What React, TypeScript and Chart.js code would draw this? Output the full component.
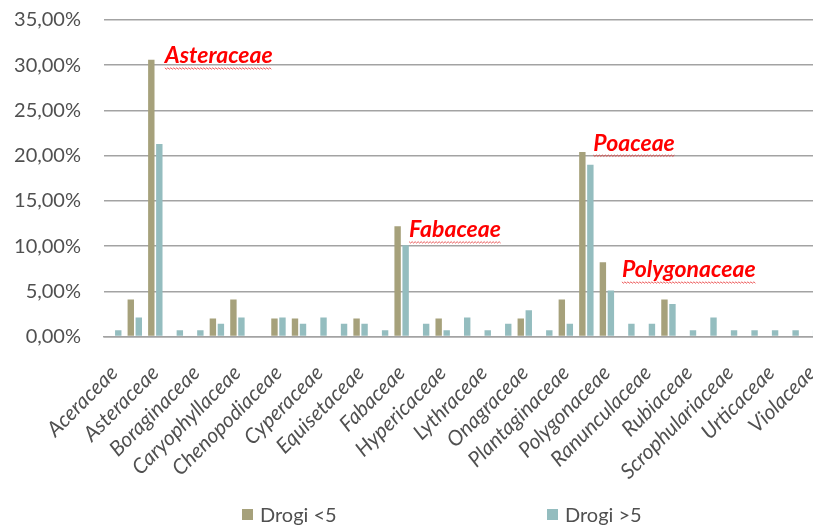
import React, { useEffect, useRef } from 'react';
import { Chart, registerables } from 'chart.js';

Chart.register(...registerables);

// Plant families, alphabetical; only every second name is printed on the axis
const families = [
  'Aceraceae', 'Apiaceae', 'Asteraceae', 'Betulaceae', 'Boraginaceae',
  'Brassicaceae', 'Caryophyllaceae', 'Celastraceae', 'Chenopodiaceae', 'Convolvulaceae',
  'Cyperaceae', 'Dipsacaceae', 'Equisetaceae', 'Euphorbiaceae', 'Fabaceae',
  'Gentianaceae', 'Hypericaceae', 'Lamiaceae', 'Lythraceae', 'Malvaceae',
  'Onagraceae', 'Papaveraceae', 'Plantaginaceae', 'Poaceae', 'Polygonaceae',
  'Primulaceae', 'Ranunculaceae', 'Rosaceae', 'Rubiaceae', 'Salicaceae',
  'Scrophulariaceae', 'Solanaceae', 'Urticaceae', 'Valerianaceae', 'Violaceae',
];

// Share of species (%) per family
const drogiUnder5 = [
  0, 4.1, 30.6, 0, 0,
  2.0, 4.1, 0, 2.0, 2.0,
  0, 0, 2.0, 0, 12.2,
  0, 2.0, 0, 0, 0,
  2.0, 0, 4.1, 20.4, 8.2,
  0, 0, 4.1, 0, 0,
  0, 0, 0, 0, 0,
];
const drogiOver5 = [
  0.7, 2.1, 21.3, 0.7, 0.7,
  1.4, 2.1, 0, 2.1, 1.4,
  2.1, 1.4, 1.4, 0.7, 10.1,
  1.4, 0.7, 2.1, 0.7, 1.4,
  2.9, 0.7, 1.4, 19.0, 5.1,
  1.4, 1.4, 3.6, 0.7, 2.1,
  0.7, 0.7, 0.7, 0.7, 0.7,
];

const seriesNames = ['Drogi <5', 'Drogi >5'];
const seriesColors = ['#a6a17b', '#94bdbf'];

// Families called out in red above their bars
const calloutNames = ['Asteraceae', 'Fabaceae', 'Poaceae', 'Polygonaceae'];
// [dx, dy] in px from the top of the "<5" bar
const calloutOffsets: [number, number][] = [
  [9.5, 3.5],
  [7.5, 11],
  [7, -1.5],
  [15, 15],
];

const FONT = 'Lato, "Open Sans", sans-serif';
const TEXT_GREY = '#505050';
const GRID_GREY = '#a3a3a3';

const calloutPlugin = {
  id: 'familyCallouts',
  afterDatasetsDraw(chart: any) {
    const { ctx, scales } = chart;
    const x = scales.x;
    const y = scales.y;
    ctx.save();
    ctx.font = `italic bold 23px ${FONT}`;
    ctx.textAlign = 'left';
    ctx.textBaseline = 'alphabetic';
    calloutNames.forEach((name, k) => {
      const i = families.indexOf(name);
      const px = x.getPixelForValue(i) + calloutOffsets[k][0];
      const py = y.getPixelForValue(drogiUnder5[i]) + calloutOffsets[k][1];
      ctx.fillStyle = '#ff0000';
      ctx.fillText(name, px, py);
      // spell-check style wavy underline
      const w = ctx.measureText(name).width;
      const uy = py + 4.5;
      ctx.beginPath();
      for (let s = 0; s <= w; s += 1.5) {
        const yy = uy + (Math.floor(s / 1.5) % 2 === 0 ? 0 : 1.4);
        if (s === 0) ctx.moveTo(px + s, yy);
        else ctx.lineTo(px + s, yy);
      }
      ctx.strokeStyle = 'rgba(230,40,40,0.75)';
      ctx.lineWidth = 1;
      ctx.stroke();
    });
    ctx.restore();
  },
};

// Legend drawn under the axis labels, two items spread apart
const legendOffsets = [138, 443];
const legendPlugin = {
  id: 'spreadLegend',
  afterDraw(chart: any) {
    const { ctx, chartArea } = chart;
    ctx.save();
    ctx.font = `20px ${FONT}`;
    ctx.textAlign = 'left';
    ctx.textBaseline = 'alphabetic';
    chart.data.datasets.forEach((ds: any, i: number) => {
      const bx = chartArea.left + legendOffsets[i];
      const by = 509;
      ctx.fillStyle = ds.backgroundColor;
      ctx.fillRect(bx, by, 11, 11);
      ctx.fillStyle = TEXT_GREY;
      ctx.fillText(ds.label, bx + 18, by + 12.5);
    });
    ctx.restore();
  },
};

export default function App() {
  const canvasRef = useRef<HTMLCanvasElement | null>(null);

  useEffect(() => {
    const canvas = canvasRef.current;
    if (!canvas) return;
    const chart = new Chart(canvas, {
      type: 'bar',
      data: {
        labels: families,
        datasets: [
          {
            label: seriesNames[0],
            data: drogiUnder5,
            backgroundColor: seriesColors[0],
            borderWidth: 0,
            categoryPercentage: 0.78,
            barPercentage: 0.8,
          },
          {
            label: seriesNames[1],
            data: drogiOver5,
            backgroundColor: seriesColors[1],
            borderWidth: 0,
            categoryPercentage: 0.78,
            barPercentage: 0.8,
          },
        ],
      },
      options: {
        animation: false,
        responsive: false,
        devicePixelRatio: 1,
        layout: { padding: { top: 20, right: 9.6, left: 0, bottom: 0 } },
        plugins: {
          legend: { display: false },
          tooltip: { enabled: false },
        },
        scales: {
          x: {
            grid: { display: false },
            border: { display: true, color: GRID_GREY, width: 1.5 },
            ticks: {
              autoSkip: false,
              minRotation: 45,
              maxRotation: 45,
              padding: 16,
              color: TEXT_GREY,
              font: { family: FONT, size: 21, style: 'italic' },
              callback: (_v: any, i: number) => (i % 2 === 0 ? families[i] : ''),
            },
            afterFit: (s: any) => {
              s.height = 189.5;
              s.paddingLeft = 0;
              s.paddingRight = 0;
            },
          },
          y: {
            min: 0,
            max: 35,
            border: { display: false },
            grid: { color: GRID_GREY, lineWidth: 1.5, drawTicks: false },
            ticks: {
              stepSize: 5,
              padding: 23,
              color: TEXT_GREY,
              font: { family: FONT, size: 20 },
              callback: (v: any) => Number(v).toFixed(2).replace('.', ',') + '%',
            },
            afterFit: (s: any) => {
              s.width = 104;
              s.paddingTop = 0;
              s.paddingBottom = 0;
            },
          },
        },
      },
      plugins: [calloutPlugin, legendPlugin],
    });
    if (document.fonts && document.fonts.ready) {
      document.fonts.ready.then(() => chart.update('none'));
    }
    return () => chart.destroy();
  }, []);

  return (
    <div
      style={{
        position: 'fixed',
        left: 0,
        top: 0,
        width: 813,
        height: 526,
        overflow: 'hidden',
        background: '#ffffff',
      }}
    >
      <canvas ref={canvasRef} width={832} height={526} style={{ display: 'block' }} />
    </div>
  );
}
